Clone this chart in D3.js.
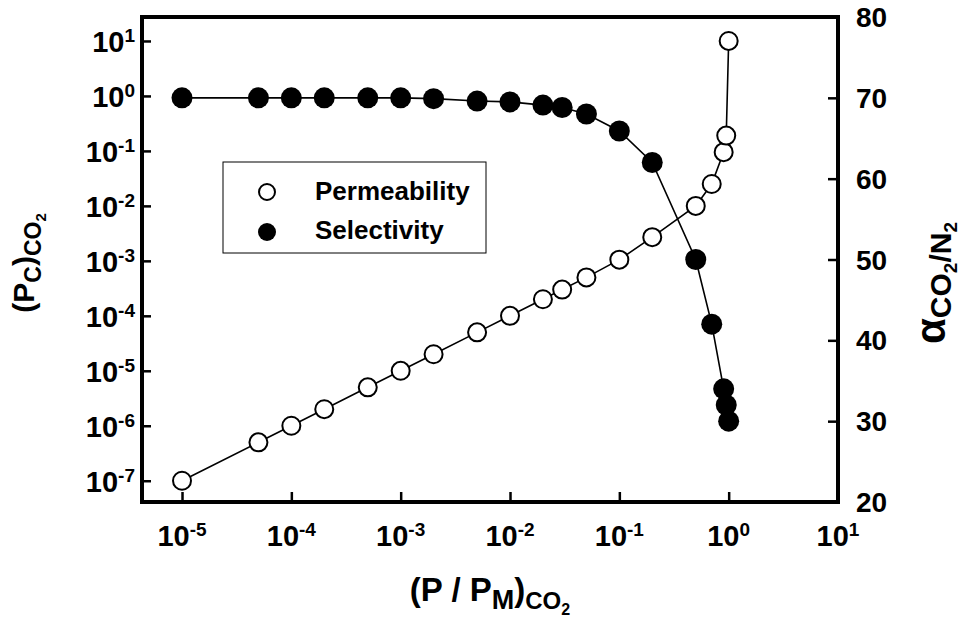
<!DOCTYPE html>
<html>
<head>
<meta charset="utf-8">
<script src="https://cdn.jsdelivr.net/npm/d3@7"></script>
<style>
  html, body { margin: 0; padding: 0; background: #fff; }
  svg { display: block; font-family: "Liberation Sans", Arial, sans-serif; font-weight: bold; }
</style>
</head>
<body>
<svg id="chart" width="970" height="622"></svg>
<script>
// ---- data ----
const pressureRatio = [1e-5, 5e-5, 1e-4, 2e-4, 5e-4, 1e-3, 2e-3, 5e-3, 1e-2, 2e-2, 3e-2, 5e-2, 0.1, 0.2, 0.5, 0.7, 0.9, 0.95, 1.0];
const permeability = [1e-7, 5e-7, 1e-6, 2e-6, 5e-6, 1e-5, 2e-5, 5e-5, 1e-4, 2e-4, 3e-4, 5e-4, 1.05e-3, 2.7e-3, 1e-2, 2.5e-2, 9.5e-2, 0.19, 10];
const selectivity = [70, 70, 70, 70, 70, 70, 69.9, 69.6, 69.5, 69.1, 68.8, 68.0, 65.9, 62.0, 50, 42, 34, 32, 30];
const xTickExps = [-5, -4, -3, -2, -1, 0, 1];
const yLeftTickExps = [1, 0, -1, -2, -3, -4, -5, -6, -7];
const yRightTicks = [20, 30, 40, 50, 60, 70, 80];
const legendLabels = ['Permeability', 'Selectivity'];

const svg = d3.select('#chart');
const plotL = 142, plotR = 838, plotT = 17, plotB = 502;

const x = d3.scaleLog().domain([Math.pow(10, -5.366), 10]).range([plotL, plotR]);
const yL = d3.scaleLog().domain([Math.pow(10, -7.387), Math.pow(10, 1.436)]).range([plotB, plotT]);
const yR = d3.scaleLinear().domain([20, 80]).range([plotB, plotT]);

// ticks (inward)
const tickStyle = (g) => {
  g.select('.domain').remove();
  g.selectAll('.tick line').attr('stroke', '#000').attr('stroke-width', 2.5);
  g.selectAll('.tick text').remove();
};

svg.append('g')
  .attr('transform', `translate(0,${plotB})`)
  .call(d3.axisBottom(x).tickValues(xTickExps.map((e) => Math.pow(10, e))).tickSize(-10).tickFormat(''))
  .call(tickStyle);

svg.append('g')
  .attr('transform', `translate(${plotL},0)`)
  .call(d3.axisLeft(yL).tickValues(yLeftTickExps.map((e) => Math.pow(10, e))).tickSize(-9).tickFormat(''))
  .call(tickStyle);

svg.append('g')
  .attr('transform', `translate(${plotR},0)`)
  .call(d3.axisRight(yR).tickValues(yRightTicks).tickSize(-10).tickFormat(''))
  .call(tickStyle);

// frame
svg.append('rect')
  .attr('x', plotL).attr('y', plotT)
  .attr('width', plotR - plotL).attr('height', plotB - plotT)
  .attr('fill', 'none').attr('stroke', '#000').attr('stroke-width', 4);

// power-of-ten labels
function powLabel(g, e, px, py, anchor) {
  const t = g.append('text')
    .attr('x', px).attr('y', py)
    .attr('text-anchor', anchor)
    .attr('font-size', 29);
  t.append('tspan').text('10');
  t.append('tspan').attr('font-size', 19).attr('dy', -10).text(String(e));
}

const xl = svg.append('g');
xTickExps.forEach((e) => powLabel(xl, e, x(Math.pow(10, e)), 546, 'middle'));

const yl = svg.append('g');
yLeftTickExps.forEach((e) => powLabel(yl, e, 135, yL(Math.pow(10, e)) + 11, 'end'));

svg.append('g')
  .selectAll('text')
  .data(yRightTicks)
  .join('text')
  .attr('x', 856)
  .attr('y', (d) => yR(d) + 10)
  .attr('font-size', 28)
  .text((d) => d);

// lines
const linePerm = d3.line().x((d, i) => x(pressureRatio[i])).y((d) => yL(d));
const lineSel = d3.line().x((d, i) => x(pressureRatio[i])).y((d) => yR(d));

svg.append('path')
  .datum(permeability)
  .attr('d', linePerm)
  .attr('fill', 'none').attr('stroke', '#000').attr('stroke-width', 1.6);

svg.append('path')
  .datum(selectivity)
  .attr('d', lineSel)
  .attr('fill', 'none').attr('stroke', '#000').attr('stroke-width', 1.6);

svg.append('g')
  .selectAll('circle')
  .data(selectivity)
  .join('circle')
  .attr('cx', (d, i) => x(pressureRatio[i]))
  .attr('cy', (d) => yR(d))
  .attr('r', 10.5)
  .attr('fill', '#000');

svg.append('g')
  .selectAll('circle')
  .data(permeability)
  .join('circle')
  .attr('cx', (d, i) => x(pressureRatio[i]))
  .attr('cy', (d) => yL(d))
  .attr('r', 9)
  .attr('fill', '#fff')
  .attr('stroke', '#000')
  .attr('stroke-width', 2);

// legend
const lg = svg.append('g');
lg.append('rect')
  .attr('x', 223).attr('y', 162).attr('width', 263).attr('height', 91)
  .attr('fill', '#fff').attr('stroke', '#000').attr('stroke-width', 1);
lg.append('circle').attr('cx', 267).attr('cy', 192).attr('r', 8)
  .attr('fill', '#fff').attr('stroke', '#000').attr('stroke-width', 2);
lg.append('circle').attr('cx', 267).attr('cy', 232).attr('r', 9).attr('fill', '#000');
lg.selectAll('text.lbl')
  .data(legendLabels)
  .join('text')
  .attr('class', 'lbl')
  .attr('x', 315)
  .attr('y', (d, i) => 200 + i * 39)
  .attr('font-size', 26)
  .text((d) => d);

// x title
const xt = svg.append('text')
  .attr('x', 490).attr('y', 601)
  .attr('text-anchor', 'middle')
  .attr('font-size', 33);
xt.append('tspan').text('(P / P');
xt.append('tspan').attr('font-size', 27).attr('dy', 8).text('M');
xt.append('tspan').attr('dy', -8).text(')');
xt.append('tspan').attr('font-size', 24).attr('dy', 8).text('CO');
xt.append('tspan').attr('font-size', 16).attr('dy', 6).text('2');

// left title
const ytL = svg.append('text')
  .attr('transform', 'translate(34,263) rotate(-90)')
  .attr('text-anchor', 'middle')
  .attr('font-size', 30);
ytL.append('tspan').text('(P');
ytL.append('tspan').attr('font-size', 23).attr('dy', 7).text('C');
ytL.append('tspan').attr('dy', -7).text(')');
ytL.append('tspan').attr('font-size', 23).attr('dy', 7).text('CO');
ytL.append('tspan').attr('font-size', 15).attr('dy', 5).text('2');

// right title
const ytR = svg.append('text')
  .attr('transform', 'translate(945,283) rotate(-90)')
  .attr('text-anchor', 'middle')
  .attr('font-size', 42);
ytR.append('tspan').text('α');
ytR.append('tspan').attr('font-size', 30).attr('dy', 6).text('CO');
ytR.append('tspan').attr('font-size', 19).attr('dy', 6).text('2');
ytR.append('tspan').attr('font-size', 30).attr('dy', -6).text('/N');
ytR.append('tspan').attr('font-size', 19).attr('dy', 6).text('2');
</script>
</body>
</html>
